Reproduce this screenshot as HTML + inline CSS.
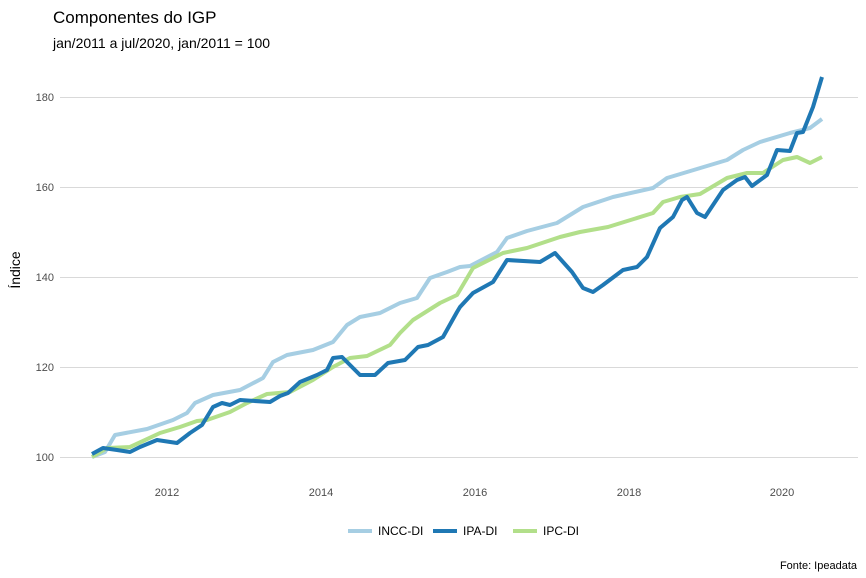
<!DOCTYPE html>
<html><head><meta charset="utf-8"><style>body{margin:0;background:#fff}svg{display:block}</style></head><body>
<svg width="866" height="578" xmlns="http://www.w3.org/2000/svg" font-family="Liberation Sans, sans-serif">
<rect width="866" height="578" fill="#fff"/>
<text x="53" y="23" font-size="17" fill="#000">Componentes do IGP</text>
<text x="53" y="48" font-size="14" fill="#000">jan/2011 a jul/2020, jan/2011 = 100</text>
<g stroke="#d9d9d9" stroke-width="1">
<line x1="60" x2="858" y1="457.5" y2="457.5"/><line x1="60" x2="858" y1="367.5" y2="367.5"/><line x1="60" x2="858" y1="277.5" y2="277.5"/><line x1="60" x2="858" y1="187.5" y2="187.5"/><line x1="60" x2="858" y1="97.5" y2="97.5"/>
</g>
<g font-size="11" fill="#4d4d4d" text-anchor="end">
<text x="54" y="461">100</text><text x="54" y="371">120</text><text x="54" y="281">140</text><text x="54" y="191">160</text><text x="54" y="101">180</text>
</g>
<g font-size="11" fill="#4d4d4d" text-anchor="middle">
<text x="167" y="496">2012</text><text x="321" y="496">2014</text><text x="475" y="496">2016</text><text x="629" y="496">2018</text><text x="782" y="496">2020</text>
</g>
<text transform="translate(20,270) rotate(-90)" font-size="14" text-anchor="middle" fill="#000">Índice</text>
<g fill="none" stroke-width="4" stroke-linejoin="round" stroke-linecap="butt">
<polyline stroke="#a6cee3" points="92,457 105,452 115,435 147,429 173,420 187,413 195,403 213,395 240,390 263,378 273,362 287,355 313,350 333,342 347,325 360,317 380,313 400,303 417,298 430,278 447,272 460,267 470,266 497,252 507,238 527,231 557,223 583,207 613,197 653,188 667,178 687,172 727,160 743,150 760,142 790,133 810,128 822,119"/>
<polyline stroke="#b2df8a" points="92,457 107,448 130,447 143,441 160,433 180,427 197,421 207,420 230,412 247,403 267,394 290,392 313,380 333,367 350,358 367,356 390,345 400,333 413,320 440,303 457,295 460,290 473,268 503,253 527,248 560,237 580,232 608,227 653,213 663,202 680,197 700,194 727,178 747,173 763,173 783,160 797,157 810,163 822,157"/>
<polyline stroke="#1f78b4" points="92,454 103,448 117,450 130,452 140,447 157,440 177,443 190,433 202,425 213,407 222,403 230,405 240,400 270,402 280,396 288,393 300,382 317,375 327,370 333,358 342,357 347,362 360,375 375,375 388,363 405,360 418,347 428,345 443,337 457,312 460,307 473,293 493,282 507,260 540,262 555,253 572,272 583,288 593,292 603,285 623,270 637,267 647,257 660,228 673,217 682,200 687,197 697,213 705,217 723,190 737,180 745,177 752,186 767,175 777,150 790,151 797,133 803,132 813,107 822,77"/>
</g>
<g stroke-width="4">
<line x1="348" x2="372" y1="531" y2="531" stroke="#a6cee3"/>
<line x1="433" x2="457" y1="531" y2="531" stroke="#1f78b4"/>
<line x1="513" x2="537" y1="531" y2="531" stroke="#b2df8a"/>
</g>
<g font-size="12" fill="#000">
<text x="378" y="535">INCC-DI</text><text x="463" y="535">IPA-DI</text><text x="543" y="535">IPC-DI</text>
</g>
<text x="857" y="569" font-size="11" text-anchor="end" fill="#000">Fonte: Ipeadata</text>
</svg>
</body></html>
